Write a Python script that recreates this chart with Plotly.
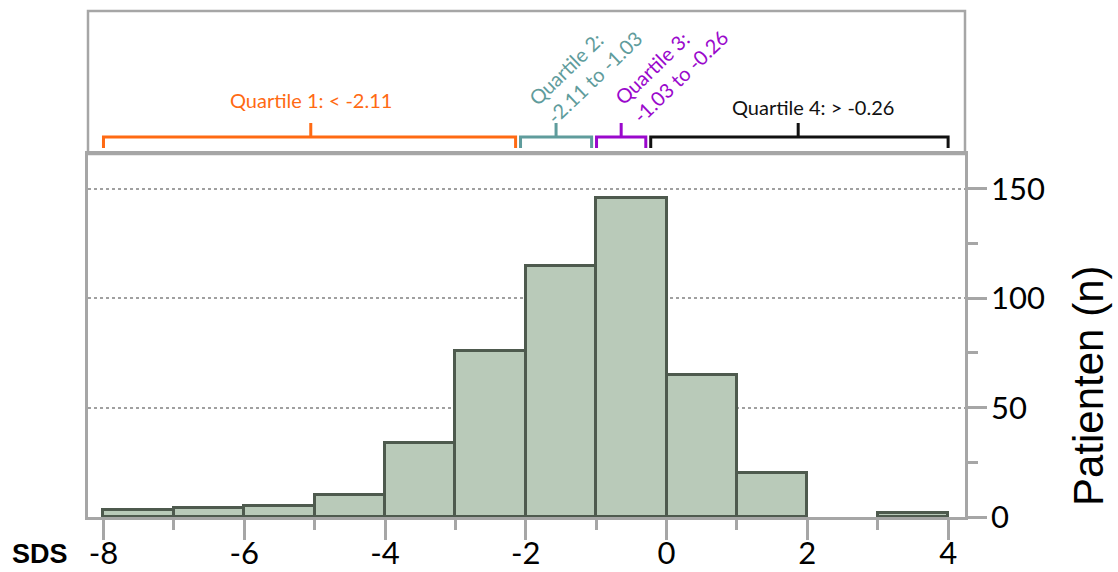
import plotly.graph_objects as go

# Histogram of SDS values (bin width 1)
bin_left = [-8, -7, -6, -5, -4, -3, -2, -1, 0, 1, 2, 3]
counts = [3, 4, 5, 10, 34, 76, 115, 146, 65, 20, 0, 2]
bin_width = 1

# Quartile boundaries and their labels
quartile_edges = [-8, -2.11, -1.03, -0.26, 4]
quartile_labels = [
    "Quartile 1: < -2.11",
    "Quartile 2:<br>-2.11 to -1.03",
    "Quartile 3:<br>-1.03 to -0.26",
    "Quartile 4: > -0.26",
]
quartile_colors = ["#FF6A13", "#5F9C9C", "#9A08CC", "#111111"]

x_ticks = [-8, -6, -4, -2, 0, 2, 4]
y_ticks = [0, 50, 100, 150]

# page geometry (px)
W, H = 1118, 572
L, R, T, B = 88, 965, 11, 517
PANEL_BOTTOM = 154
plot_h = B - T
split = (B - PANEL_BOTTOM) / plot_h

AXIS_GREY = "#A6A6A6"
FONT = "Lato"

# empty bins are left out so no outline is drawn for them
bars = [(b + bin_width / 2, c) for b, c in zip(bin_left, counts) if c > 0]
x_centers = [b for b, _ in bars]
heights = [c for _, c in bars]

fig = go.Figure()
fig.add_trace(go.Bar(
    x=x_centers, y=heights, width=[bin_width] * len(heights),
    marker=dict(color="#B9CAB9", line=dict(color="#4E5A4E", width=3)),
    hoverinfo="x+y", showlegend=False,
))

shapes = [
    # frame of the quartile panel
    dict(type="rect", xref="paper", yref="paper", x0=0, x1=1, y0=split, y1=1,
         line=dict(color=AXIS_GREY, width=2.5), fillcolor="rgba(0,0,0,0)"),
]
annotations = []

gap = 0.035
h_line, h_end, h_tick = 17, 6, 31
for i in range(4):
    lo = quartile_edges[i] + (gap if i > 0 else 0)
    hi = quartile_edges[i + 1] - (gap if i < 3 else 0)
    mid = (quartile_edges[i] + quartile_edges[i + 1]) / 2
    path = (f"M {lo},{h_end} L {lo},{h_line} L {hi},{h_line} L {hi},{h_end} "
            f"M {mid},{h_line} L {mid},{h_tick}")
    shapes.append(dict(type="path", xref="x", yref="y2", path=path,
                       line=dict(color=quartile_colors[i], width=3)))

# quartile labels
label_pos = [
    dict(y=54, xshift=0, angle=0, align="center"),
    dict(y=86, xshift=29, angle=-44, align="left"),
    dict(y=87, xshift=50, angle=-44, align="left"),
    dict(y=47, xshift=15, angle=0, align="center"),
]
for i in range(4):
    mid = (quartile_edges[i] + quartile_edges[i + 1]) / 2
    p = label_pos[i]
    annotations.append(dict(
        x=mid, y=p["y"], xref="x", yref="y2", xshift=p["xshift"],
        text=quartile_labels[i], showarrow=False, textangle=p["angle"],
        align=p["align"], xanchor="center", yanchor="middle",
        font=dict(family=FONT, size=20, color=quartile_colors[i]),
    ))

annotations.append(dict(
    x=(1089 - L) / (R - L), y=(B - 386) / plot_h, xref="paper", yref="paper",
    text="Patienten (n)", showarrow=False, textangle=-90,
    xanchor="center", yanchor="middle",
    font=dict(family="Liberation Sans, Arial", size=42, color="black"),
))
annotations.append(dict(
    x=(40 - L) / (R - L), y=(B - 554) / plot_h, xref="paper", yref="paper",
    text="<b>SDS</b>", showarrow=False, xanchor="center", yanchor="middle",
    font=dict(family="Liberation Sans, Arial", size=27, color="black"),
))

fig.update_layout(
    width=W, height=H,
    margin=dict(l=L, r=W - R, t=T, b=H - B, pad=0, autoexpand=False),
    paper_bgcolor="white", plot_bgcolor="white",
    bargap=0,
    shapes=shapes, annotations=annotations,
    xaxis=dict(
        range=[-8.22, 4.24], tickmode="array", tickvals=x_ticks,
        ticktext=[str(v) for v in x_ticks],
        ticks="outside", ticklen=20, tickwidth=2.5, tickcolor=AXIS_GREY,
        minor=dict(dtick=1, tick0=-8, ticks="outside", ticklen=10,
                   tickwidth=2.5, tickcolor=AXIS_GREY, showgrid=False),
        showline=True, linecolor=AXIS_GREY, linewidth=2.5, mirror=True,
        showgrid=False, zeroline=False, automargin=False,
        ticklabelstandoff=-13,
        tickfont=dict(family=FONT, size=31, color="black"),
        anchor="y",
    ),
    yaxis=dict(
        domain=[0, split], range=[0, 166], side="right",
        tickmode="array", tickvals=y_ticks, ticktext=[str(v) for v in y_ticks],
        ticks="outside", ticklen=19, tickwidth=2.5, tickcolor=AXIS_GREY,
        minor=dict(dtick=25, tick0=0, ticks="outside", ticklen=10, tickwidth=2.5,
                   tickcolor=AXIS_GREY, showgrid=False),
        showline=True, linecolor=AXIS_GREY, linewidth=2.5, mirror=True,
        showgrid=True, gridcolor="#A0A0A0", gridwidth=1.5, griddash="dot",
        zeroline=False, ticklabelstandoff=-2, automargin=False,
        tickfont=dict(family=FONT, size=31, color="black"),
    ),
    yaxis2=dict(
        domain=[split, 1], range=[0, PANEL_BOTTOM - T],
        anchor="x", visible=False, fixedrange=True,
    ),
)

fig.write_html("out.html")
